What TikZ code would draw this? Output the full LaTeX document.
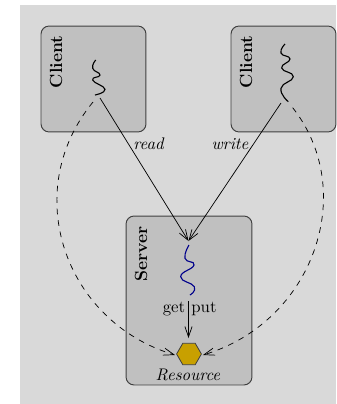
\documentclass[tikz,border=0pt]{standalone}
\usepackage{tikz}
\usetikzlibrary{shapes.geometric}
\usetikzlibrary{arrows.meta,positioning}
\definecolor{panelgray}{HTML}{D9D9D9}
\definecolor{boxgray}{HTML}{C0C0C0}
\definecolor{edgegray}{HTML}{404040}
\definecolor{threadblue}{HTML}{00008B}
\definecolor{resgold}{HTML}{C8A000}
\tikzstyle{box}=[draw=edgegray, fill=boxgray, rounded corners=5pt, line width=0.6pt, inner sep=0pt]
\tikzstyle{boxname}=[rotate=90, font=\fontsize{11}{13}\selectfont\bfseries, inner sep=0pt]
\tikzstyle{txt}=[inner sep=0pt, font=\fontsize{10.5}{12}\selectfont]
\tikzstyle{thread}=[line width=0.7pt]
\tikzstyle{call}=[-{Straight Barb[length=6.5pt,width=4.5pt]}, line width=0.45pt]
\tikzstyle{wait}=[call, dash pattern=on 3.6pt off 3.6pt]
\tikzstyle{res}=[regular polygon, regular polygon sides=6, draw=edgegray, fill=resgold, minimum size=15.5pt, inner sep=0pt, line width=0.5pt]

\begin{document}
\begin{tikzpicture}[x=0.625pt,y=-0.625pt]
%
  \useasboundingbox (0,0) rectangle (336,404);
  \fill[panelgray] (20,5) rectangle (336,404);
  \node[box, minimum width=65.6pt, minimum height=66.2pt] (c1) at (93.5,79) {};
  \node[box, minimum width=65.6pt, minimum height=66.2pt] (c2) at (283.5,79) {};
  \node[box, minimum width=78.7pt, minimum height=105.6pt] (srv) at (189,300.5) {};
  \node[boxname] (c1name) at (56,62) {Client};
  \node[boxname] (c2name) at (246,62) {Client};
  \node[boxname] (srvname) at (141,254) {Server};
  \node[res] (res) at (189,354) {};
  \node[txt] (resname) at (188,375) {\textit{Resource}};
%  threads
  \draw[thread] plot[smooth, tension=0.9] coordinates {(95.7,60) (92.7,68.3) (100,75) (92.7,80) (105,89.3) (95,95)};
  \draw[thread] plot[smooth, tension=0.9] coordinates {(285,44) (281,53) (290,59) (281.7,68) (293.3,76.7) (281,88.3) (288.3,101.7)};
  \draw[thread, threadblue] plot[smooth, tension=0.9] coordinates {(189,245) (185,258.3) (194,265) (180.7,276.7) (194.3,286.7) (190,295)};
%  calls
  \coordinate (t1c) at (100,98);
  \coordinate (t1d) at (93,102);
  \coordinate (t2c) at (281,103);
  \coordinate (t2d) at (292.7,107.7);
  \coordinate (t3c) at (188.5,241);
  \coordinate (t3d) at (188.5,301);
  \coordinate (t3e) at (188.5,338);
  \coordinate (r1) at (175,355);
  \coordinate (r2) at (203,355);
  \draw[call] (t1c) -- (t3c);
  \draw[call] (t2c) -- (t3c);
  \draw[call] (t3d) -- (t3e);
  \node[txt] (read) at (149,144) {\textit{read}};
  \node[txt] (write) at (230,144) {\textit{write}};
  \node[txt] (get) at (174,309) {get};
  \node[txt] (put) at (204,309) {put};
  \draw[wait] (t1d) .. controls (19,192) and (65,322) .. (r1);
  \draw[wait] (t2d) .. controls (359,192) and (313,322) .. (r2);
%
\end{tikzpicture}
\end{document}
